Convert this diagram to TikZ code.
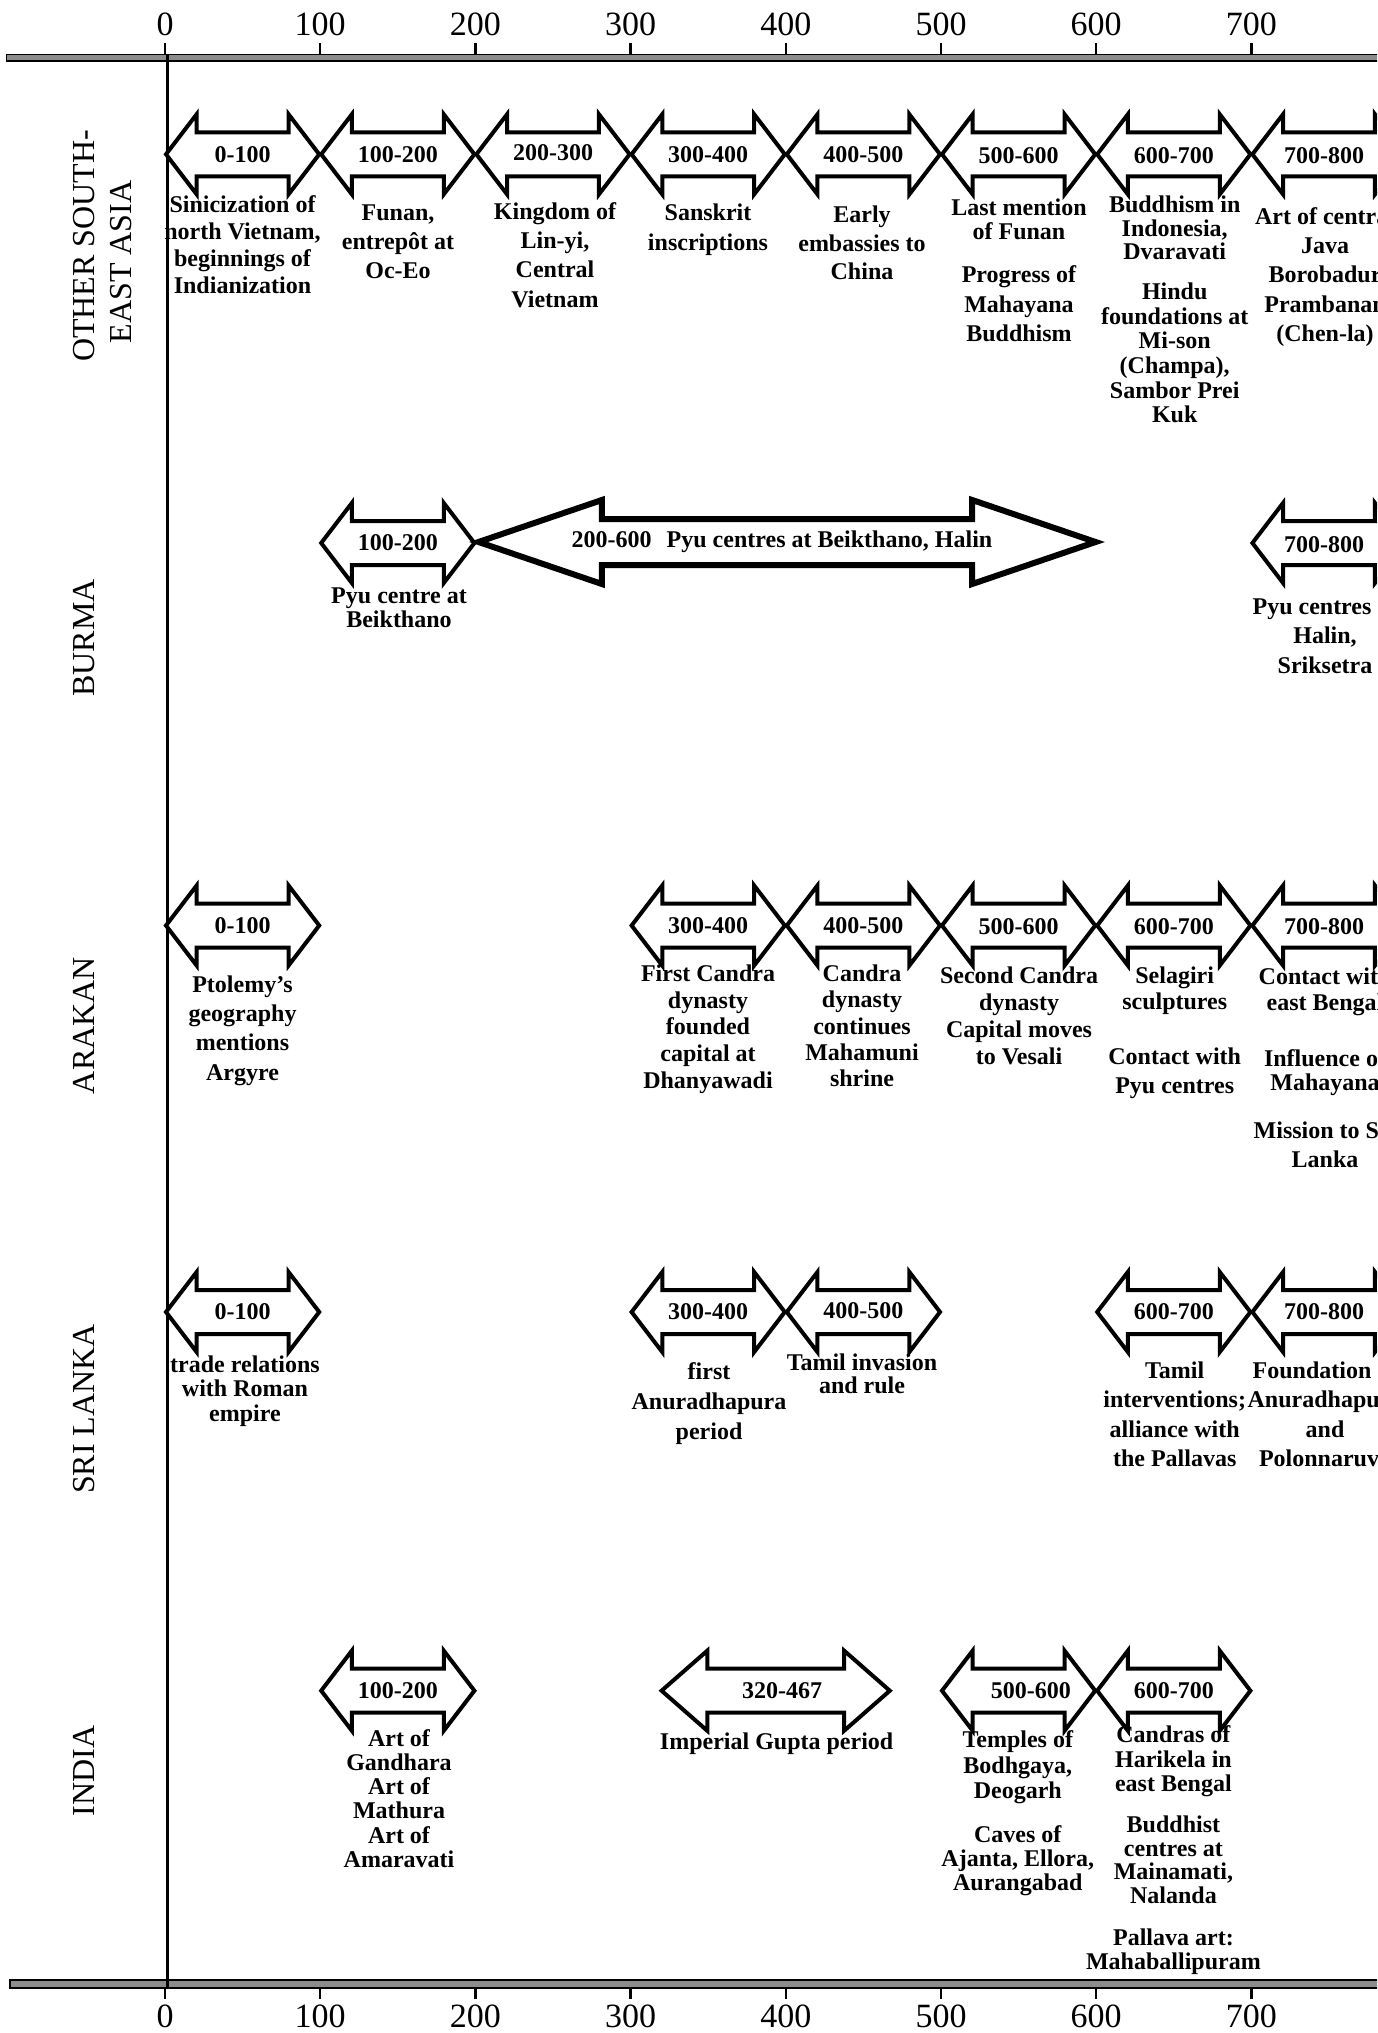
\documentclass[tikz,border=0pt]{standalone}
\usepackage{fontspec}
\setmainfont{Liberation Serif}
\tikzset{
  arr/.style={draw=black, line width=4pt, fill=white, line join=miter},
  bigarr/.style={arr, line width=6pt},
  alab/.style={font=\bfseries\fontsize{24}{24}\selectfont, inner sep=0pt},
  desc/.style 2 args={font=\bfseries\fontsize{24}{#1}\selectfont, align=center, inner sep=0pt, anchor=base, yshift={-(#2-1)*#1-4}},
  rowlab/.style={font=\fontsize{32}{32}\selectfont, rotate=90, inner sep=0pt},
  ticklab/.style={font=\fontsize{34}{34}\selectfont, inner sep=0pt, anchor=base},
  axisbar/.style={draw=black, line width=1.2pt, fill=black!45},
  tickmark/.style={line width=2.5pt},
  zeroline/.style={line width=3pt},
}
\newcommand{\tlarrow}[6][arr]{%
  \pgfmathsetmacro{\tlhl}{0.2*(#3-#2)}%
  \pgfmathsetmacro{\tlxa}{#2+\tlhl}%
  \pgfmathsetmacro{\tlxb}{#3-\tlhl}%
  \draw[#1] (#2,#4) -- (\tlxa,#4-#5) -- (\tlxa,#4-#6) -- (\tlxb,#4-#6) -- (\tlxb,#4-#5) -- (#3,#4)
     -- (\tlxb,#4+#5) -- (\tlxb,#4+#6) -- (\tlxa,#4+#6) -- (\tlxa,#4+#5) -- cycle;%
}
\newcommand{\slotarrow}[2]{%
  \pgfmathsetmacro{\slxa}{166+1.552*#1}%
  \pgfmathsetmacro{\slxb}{164+1.552*(#1+100)}%
  \tlarrow{\slxa}{\slxb}{#2}{40}{22}%
}
\begin{document}
\begin{tikzpicture}[x=1pt,y=-1pt]
\useasboundingbox (0,0) rectangle (1377,2033);
\clip (0,0) rectangle (1377,2033);

% axes
\draw[axisbar] (6.5,54.5) rectangle (1390,61);
\draw[axisbar] (10,1980) rectangle (1390,1988);
\draw[zeroline] (167,54.5) -- (167,1988);
\foreach \k in {0,...,7}{
  \pgfmathsetmacro{\tx}{165+155.2*\k}
  \draw[tickmark] (\tx,54.5) -- (\tx,43);
  \draw[tickmark] (\tx,1988) -- (\tx,1999);
  \pgfmathtruncatemacro{\yr}{100*\k}
  \node[ticklab] (t\k) at (\tx,36) {\yr};
  \node[ticklab] (b\k) at (\tx,2027) {\yr};
}

% row labels
\node[rowlab] (lab1a) at (84,246) {OTHER SOUTH-};
\node[rowlab] (lab1b) at (120.6,262) {EAST ASIA};
\node[rowlab] (lab2) at (84,638) {BURMA};
\node[rowlab] (lab3) at (84,1025.6) {ARAKAN};
\node[rowlab] (lab4) at (84,1409) {SRI LANKA};
\node[rowlab] (lab5) at (84,1771) {INDIA};

% ---------- Row 1: other South-East Asia
\foreach \a in {0,100,200,300,400,500,600,700}{\slotarrow{\a}{154.3}}
\node[alab] (r1a) at (242.6,154.3) {0-100};
\node[alab] (r1b) at (397.8,154.3) {100-200};
\node[alab] (r1c) at (553,153) {200-300};
\node[alab] (r1d) at (708.2,154.3) {300-400};
\node[alab] (r1e) at (863.4,154.3) {400-500};
\node[alab] (r1f) at (1018.6,156) {500-600};
\node[alab] (r1g) at (1173.8,156) {600-700};
\node[alab] (r1h) at (1324,156) {700-800};
\node[desc={26.8}{4}] (d1a) at (242.5,208.7) {Sinicization of\\north Vietnam,\\beginnings of\\Indianization};
\node[desc={29.2}{3}] (d1b) at (398,216.5) {Funan,\\entrepôt at\\Oc-Eo};
\node[desc={29.4}{4}] (d1c) at (555,215.2) {Kingdom of\\Lin-yi,\\Central\\Vietnam};
\node[desc={29.8}{2}] (d1d) at (708,216.5) {Sanskrit\\inscriptions};
\node[desc={28.5}{3}] (d1e) at (862,219) {Early\\embassies to\\China};
\node[desc={24.6}{2}] (d1f1) at (1019,211.3) {Last mention\\of Funan};
\node[desc={29.2}{3}] (d1f2) at (1019,278.8) {Progress of\\Mahayana\\Buddhism};
\node[desc={23.3}{3}] (d1g1) at (1174.7,208.8) {Buddhism in\\Indonesia,\\Dvaravati};
\node[desc={24.6}{6}] (d1g2) at (1174.7,295.6) {Hindu\\foundations at\\Mi-son\\(Champa),\\Sambor Prei\\Kuk};
\node[desc={29.2}{5}] (d1h) at (1325,220.4) {Art of central\\Java\\Borobadur\\Prambanan\\(Chen-la)};

% ---------- Row 2: Burma
\slotarrow{100}{543}
\tlarrow[bigarr]{478.5}{1095.6}{542}{42}{23}
\slotarrow{700}{543}
\node[alab] (r2b) at (397.8,543) {100-200};
\node[alab] (r2c) at (782,542) {200-600\hspace{15pt}Pyu centres at Beikthano, Halin};
\node[alab] (r2h) at (1324,545) {700-800};
\node[desc={24.6}{2}] (d2b) at (399,599) {Pyu centre at\\Beikthano};
\node[desc={29.2}{3}] (d2h) at (1325,610.7) {Pyu centres at\\Halin,\\Sriksetra};

% ---------- Row 3: Arakan
\foreach \a in {0,300,400,500,600,700}{\slotarrow{\a}{925.5}}
\node[alab] (r3a) at (242.6,925.5) {0-100};
\node[alab] (r3d) at (708.2,925.5) {300-400};
\node[alab] (r3e) at (863.4,925.5) {400-500};
\node[alab] (r3f) at (1018.6,926.5) {500-600};
\node[alab] (r3g) at (1173.8,926.5) {600-700};
\node[alab] (r3h) at (1324,926.5) {700-800};
\node[desc={29.4}{4}] (d3a) at (242.5,988) {Ptolemy’s\\geography\\mentions\\Argyre};
\node[desc={26.6}{5}] (d3d) at (708,977.6) {First Candra\\dynasty\\founded\\capital at\\Dhanyawadi};
\node[desc={26.3}{5}] (d3e) at (862,977.6) {Candra\\dynasty\\continues\\Mahamuni\\shrine};
\node[desc={27.2}{4}] (d3f) at (1019,979) {Second Candra\\dynasty\\Capital moves\\to Vesali};
\node[desc={26}{2}] (d3g1) at (1174.7,979) {Selagiri\\sculptures};
\node[desc={28.5}{2}] (d3g2) at (1174.7,1060.6) {Contact with\\Pyu centres};
\node[desc={26}{2}] (d3h1) at (1325,980) {Contact with\\east Bengal};
\node[desc={24.6}{2}] (d3h2) at (1325,1062) {Influence of\\Mahayana};
\node[desc={28.5}{2}] (d3h3) at (1325,1134.5) {Mission to Sri\\Lanka};

% ---------- Row 4: Sri Lanka
\foreach \a in {0,300,400,600,700}{\slotarrow{\a}{1312}}
\node[alab] (r4a) at (242.6,1312) {0-100};
\node[alab] (r4d) at (708.2,1312) {300-400};
\node[alab] (r4e) at (863.4,1311) {400-500};
\node[alab] (r4g) at (1173.8,1312) {600-700};
\node[alab] (r4h) at (1324,1312) {700-800};
\node[desc={24.6}{3}] (d4a) at (245,1368) {trade relations\\with Roman\\empire};
\node[desc={29.8}{3}] (d4d) at (709,1375.7) {first\\Anuradhapura\\period};
\node[desc={23.3}{2}] (d4e) at (862,1366.6) {Tamil invasion\\and rule};
\node[desc={29.4}{4}] (d4g) at (1174.7,1374.4) {Tamil\\interventions;\\alliance with\\the Pallavas};
\node[desc={29.4}{4}] (d4h) at (1325,1374.4) {Foundation of\\Anuradhapura\\and\\Polonnaruva};

% ---------- Row 5: India
\slotarrow{100}{1690.7}
\tlarrow{661.6}{889.8}{1690.7}{40}{22}
\slotarrow{500}{1690.7}
\slotarrow{600}{1690.7}
\node[alab] (r5b) at (397.8,1690.7) {100-200};
\node[alab] (r5c) at (782,1690.7) {320-467};
\node[alab] (r5f) at (1030.8,1690.7) {500-600};
\node[alab] (r5g) at (1173.8,1690.7) {600-700};
\node[desc={24.1}{6}] (d5b) at (399,1742.6) {Art of\\Gandhara\\Art of\\Mathura\\Art of\\Amaravati};
\node[desc={28}{1}] (d5c) at (776.6,1745.2) {Imperial Gupta period};
\node[desc={25.3}{3}] (d5f1) at (1017.8,1743.9) {Temples of\\Bodhgaya,\\Deogarh};
\node[desc={24}{3}] (d5f2) at (1017.8,1838.6) {Caves of\\Ajanta, Ellora,\\Aurangabad};
\node[desc={24.6}{3}] (d5g1) at (1173.4,1738.7) {Candras of\\Harikela in\\east Bengal};
\node[desc={23.8}{4}] (d5g2) at (1173.4,1828.2) {Buddhist\\centres at\\Mainamati,\\Nalanda};
\node[desc={24.6}{2}] (d5g3) at (1173.4,1941) {Pallava art:\\Mahaballipuram};
\end{tikzpicture}
\end{document}
